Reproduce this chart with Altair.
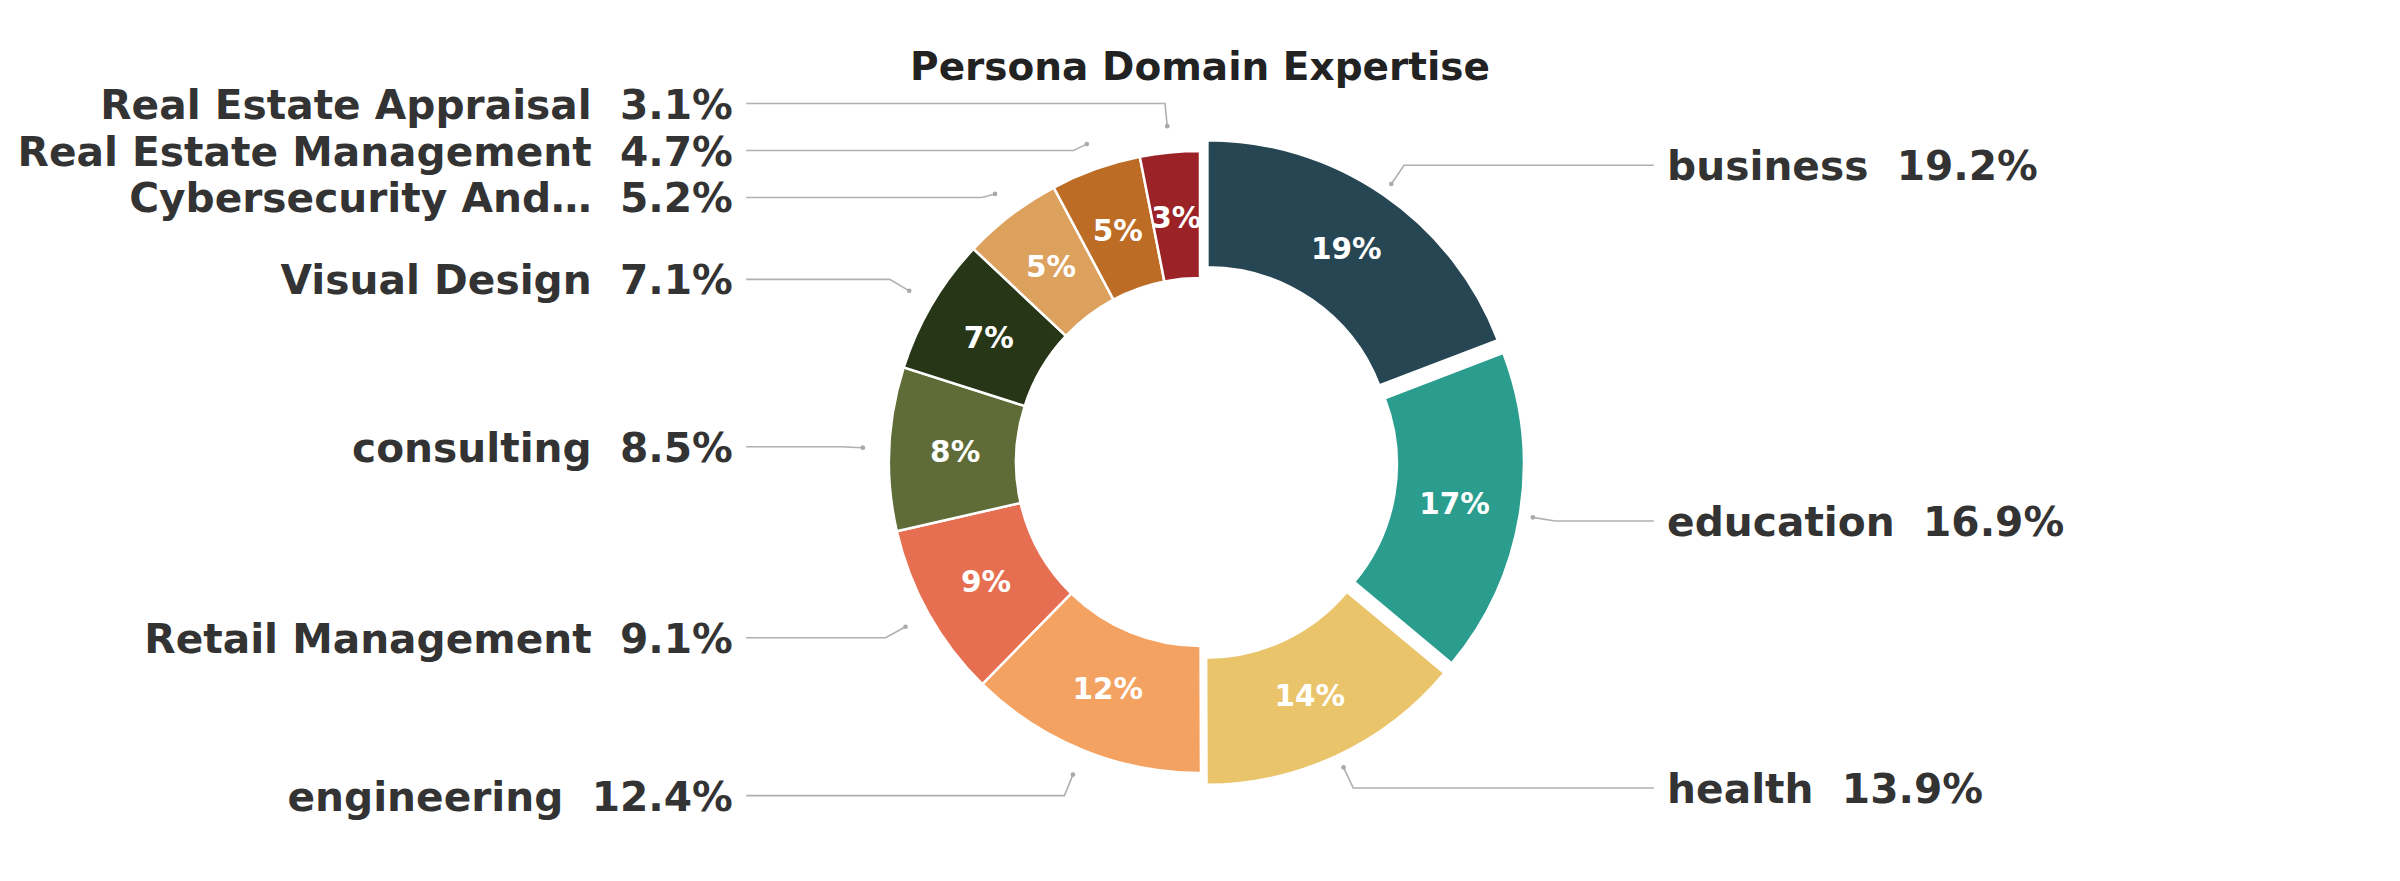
import numpy as np
import pandas as pd
import altair as alt

# ---- data ----
categories = [
    "business", "education", "health", "engineering", "Retail Management",
    "consulting", "Visual Design", "Cybersecurity And…",
    "Real Estate Management", "Real Estate Appraisal",
]
shares = [19.2, 16.9, 13.9, 12.4, 9.1, 8.5, 7.1, 5.2, 4.7, 3.1]
colors = ["#264653", "#2A9D8F", "#E9C46A", "#F4A261", "#E76F51",
          "#606C38", "#283618", "#DDA15E", "#BC6C25", "#9B2226"]
chart_title = "Persona Domain Expertise"

# ---- layout constants (pixels) ----
W, H = 2380, 860
CX_PAGE, CY_PAGE = 1200, 462
U = 311.0               # outer radius in px = 1 data unit
INNER = 184
EXPLODE = 0.042
DOT_R = 1.085
LABEL_R = 1.158
LABEL_X = 1.502
LINE_X = 1.459
GAP = 0.151
PCT_R = 0.788

# ---- derived geometry (computed from the values) ----
n = len(categories)
vals = np.array(shares, dtype=float)
frac = vals / vals.sum()
end = np.cumsum(frac)
start = end - frac
mid = (start + end) / 2 * 2 * np.pi
s, c = np.sin(mid), np.cos(mid)
explode = np.zeros(n)
explode[np.argsort(-vals)[:3]] = EXPLODE
cx, cy = explode * s, explode * c
side = np.where(s >= 0, 1.0, -1.0)

dot_x, dot_y = DOT_R * s, DOT_R * c
lab_y = LABEL_R * c
for sd in (1.0, -1.0):
    idx = [i for i in range(n) if side[i] == sd]
    idx.sort(key=lambda i: -lab_y[i])
    prev = None
    for i in idx:
        if prev is not None and lab_y[i] > prev - GAP:
            lab_y[i] = prev - GAP
        prev = lab_y[i]

elbow_x = np.zeros(n)
for i in range(n):
    t = (lab_y[i] - dot_y[i]) / c[i] if abs(c[i]) > 1e-6 else 0.0
    if t > 0.005:
        elbow_x[i] = dot_x[i] + t * s[i]
    else:
        elbow_x[i] = dot_x[i] + side[i] * 0.043

slices = pd.DataFrame({
    "idx": np.arange(n),
    "category": categories,
    "share": vals,
    "cx": cx, "cy": cy,
    "px": cx + PCT_R * s, "py": cy + PCT_R * c,
    "pct": [f"{v:.0f}%" for v in vals],
    "dx": dot_x, "dy": dot_y,
    "tx": side * LABEL_X, "ty": lab_y,
    "label": [f"{k}\u00a0\u00a0{v:.1f}%" for k, v in zip(categories, vals)],
    "side": np.where(side > 0, "right", "left"),
})

rows = []
for i in range(n):
    rows.append({"category": categories[i], "pt": 0, "x": side[i] * LINE_X, "y": lab_y[i]})
    rows.append({"category": categories[i], "pt": 1, "x": elbow_x[i], "y": lab_y[i]})
    rows.append({"category": categories[i], "pt": 2, "x": dot_x[i], "y": dot_y[i]})
leaders = pd.DataFrame(rows)

x0 = -(CX_PAGE - 8) / U
xs = alt.Scale(domain=[x0, x0 + W / U], nice=False, zero=False)
y1 = (CY_PAGE - 8) / U
ys = alt.Scale(domain=[y1 - H / U, y1], nice=False, zero=False)

base = alt.Chart(slices)

arcs = base.mark_arc(outerRadius=U, innerRadius=INNER, stroke="white", strokeWidth=2.5).encode(
    x=alt.X("cx:Q", scale=xs, axis=None),
    y=alt.Y("cy:Q", scale=ys, axis=None),
    theta=alt.Theta("share:Q", stack=True),
    color=alt.Color("category:N", scale=alt.Scale(domain=categories, range=colors), legend=None),
    order=alt.Order("idx:Q"),
)

pct = base.mark_text(font="DejaVu Sans", fontWeight="bold", fontSize=29.5, color="white",
                     baseline="middle", align="center", dy=1).encode(
    x=alt.X("px:Q", scale=xs, axis=None),
    y=alt.Y("py:Q", scale=ys, axis=None),
    text="pct:N",
)

lines = alt.Chart(leaders).mark_line(color="#b0b0b0", strokeWidth=1.6).encode(
    x=alt.X("x:Q", scale=xs, axis=None),
    y=alt.Y("y:Q", scale=ys, axis=None),
    detail="category:N",
    order="pt:Q",
)

dots = base.mark_circle(color="#aaaaaa", size=22, opacity=1).encode(
    x=alt.X("dx:Q", scale=xs, axis=None),
    y=alt.Y("dy:Q", scale=ys, axis=None),
)

text_common = dict(font="DejaVu Sans", fontWeight="bold", fontSize=40.7, color="#333333",
                   baseline="middle", dy=3)
right_labels = base.transform_filter(alt.datum.side == "right").mark_text(align="left", **text_common).encode(
    x=alt.X("tx:Q", scale=xs, axis=None),
    y=alt.Y("ty:Q", scale=ys, axis=None),
    text="label:N",
)
left_labels = base.transform_filter(alt.datum.side == "left").mark_text(align="right", **text_common).encode(
    x=alt.X("tx:Q", scale=xs, axis=None),
    y=alt.Y("ty:Q", scale=ys, axis=None),
    text="label:N",
)

title = alt.Chart(pd.DataFrame({"t": [chart_title]})).mark_text(
    font="DejaVu Sans", fontWeight="bold", fontSize=39, color="#222222",
    align="center", baseline="middle",
).encode(
    x=alt.value(CX_PAGE - 8),
    y=alt.value(68 - 8),
    text="t:N",
)

chart = alt.layer(arcs, lines, dots, pct, right_labels, left_labels, title).properties(
    width=W, height=H,
    autosize=alt.AutoSizeParams(type="none"),
    padding=0,
    background="white",
).configure_view(stroke=None)

chart.save("out.html", embed_options={"renderer": "svg", "actions": False})
